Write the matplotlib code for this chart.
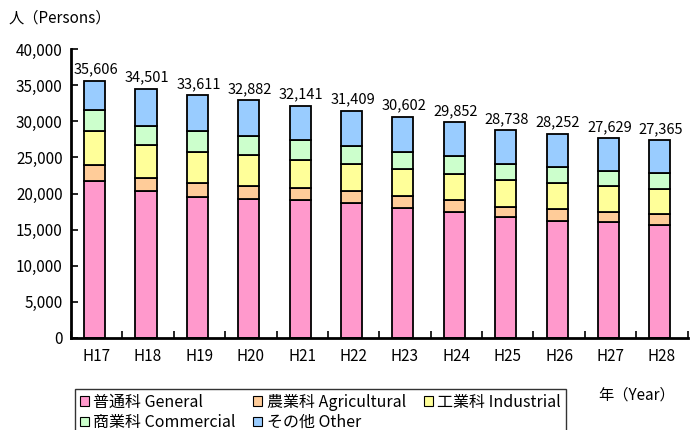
import matplotlib
matplotlib.use('Agg')
import matplotlib.pyplot as plt
from matplotlib.patches import Patch
import numpy as np

plt.rcParams['font.family'] = ['Noto Sans CJK JP', 'DejaVu Sans']

years = ['H17', 'H18', 'H19', 'H20', 'H21', 'H22', 'H23', 'H24', 'H25', 'H26', 'H27', 'H28']
totals = [35606, 34501, 33611, 32882, 32141, 31409, 30602, 29852, 28738, 28252, 27629, 27365]
general = [21700, 20300, 19500, 19250, 19050, 18650, 18050, 17400, 16700, 16200, 16000, 15600]
agricultural = [2200, 1800, 2000, 1800, 1650, 1650, 1550, 1700, 1500, 1650, 1400, 1600]
industrial = [4700, 4650, 4250, 4250, 4000, 3800, 3850, 3600, 3700, 3650, 3700, 3450]
commercial = [3000, 2650, 2850, 2650, 2700, 2450, 2300, 2450, 2250, 2200, 2000, 2250]
other = [t - g - a - i - c for t, g, a, i, c in zip(totals, general, agricultural, industrial, commercial)]

series = [
    ('普通科 General', general, '#FF99CC'),
    ('農業科 Agricultural', agricultural, '#FFCC99'),
    ('工業科 Industrial', industrial, '#FFFF99'),
    ('商業科 Commercial', commercial, '#CCFFCC'),
    ('その他 Other', other, '#99CCFF'),
]

fig = plt.figure(figsize=(6.92, 4.30), dpi=100)
ax = fig.add_axes([0.1026, 0.214, 0.891, 0.672])

x = np.arange(len(years))
bottom = np.zeros(len(years))
handles = []
for label, vals, color in series:
    ax.bar(x - 0.04, vals, width=0.41, bottom=bottom, color=color, edgecolor='black', linewidth=1.3)
    bottom += np.array(vals)
    handles.append(Patch(facecolor=color, edgecolor='black', linewidth=0.8, label=label))

for xi, t in zip(x, totals):
    ax.text(xi - 0.02, t + 600, f'{t:,}', ha='center', va='bottom', fontsize=10.5)

ax.set_xlim(-0.5, len(years) - 0.5)
ax.set_ylim(0, 40000)
ax.set_yticks(range(0, 40001, 5000))
ax.set_yticklabels([f'{v:,}' for v in range(0, 40001, 5000)], fontsize=11)
ax.set_xticks(x)
ax.set_xticklabels(years, fontsize=11)
ax.set_xticks(np.arange(-0.5, len(years)), minor=True)
ax.tick_params(axis='x', which='major', length=0, pad=7)
ax.tick_params(axis='x', which='minor', direction='in', length=5, width=1.2)
ax.tick_params(axis='y', direction='in', length=5, width=1.2, pad=6)

for s in ['top', 'right']:
    ax.spines[s].set_visible(False)
for s in ['left', 'bottom']:
    ax.spines[s].set_linewidth(2)

fig.text(0.012, 0.958, '人（Persons）', fontsize=11, va='center')
fig.text(0.865, 0.081, '年（Year）', fontsize=11, va='center')

# row-wise order in the legend: G A I / C O
order = [0, 3, 1, 4, 2]
fig.legend(handles=[handles[i] for i in order], ncol=3, loc='upper left', bbox_to_anchor=(0.1084, 0.0953),
           fontsize=11.5, frameon=True, fancybox=False, edgecolor='black',
           handlelength=0.55, handleheight=0.55, handletextpad=0.3,
           columnspacing=1.1, borderpad=0.3, labelspacing=0.2, borderaxespad=0)

fig.savefig('out.png', dpi=100)
